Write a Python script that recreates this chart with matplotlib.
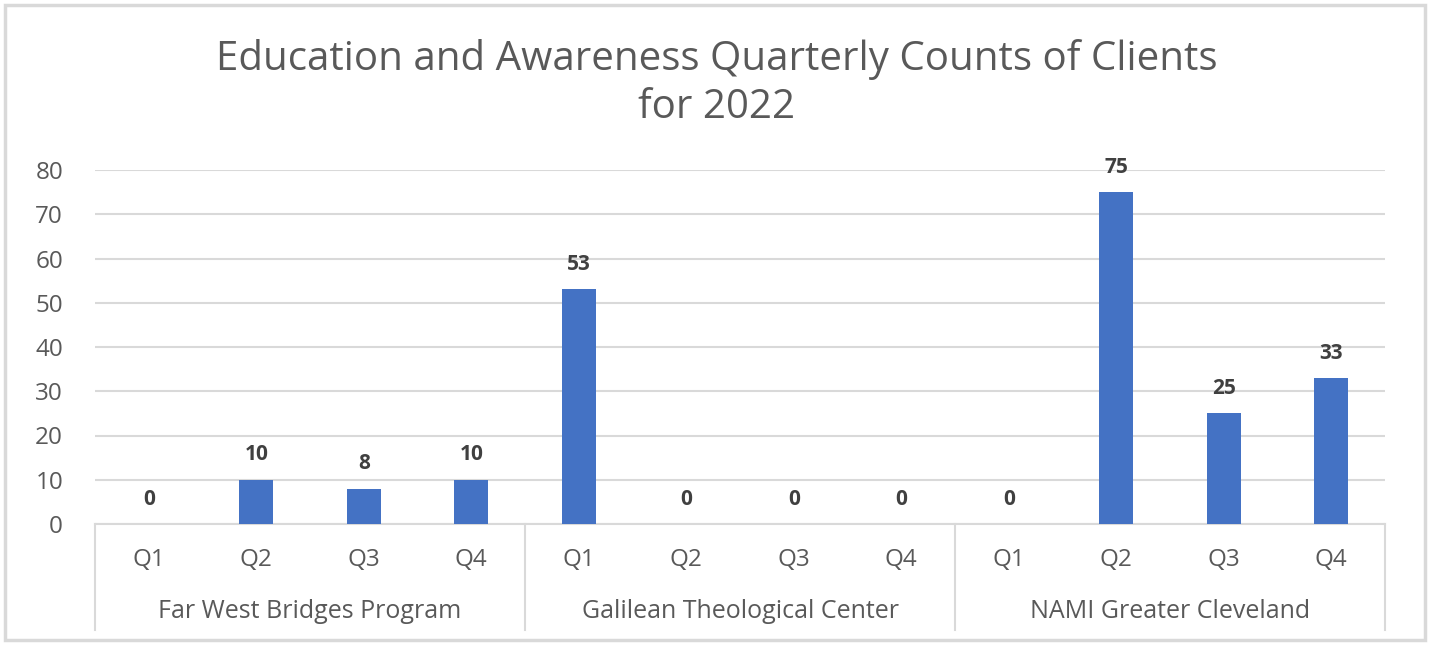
import matplotlib.pyplot as plt
from matplotlib.patches import Rectangle
import numpy as np

plt.rcParams['font.family'] = ['Open Sans', 'DejaVu Sans']

programs = ["Far West Bridges Program", "Galilean Theological Center", "NAMI Greater Cleveland"]
quarters = ["Q1", "Q2", "Q3", "Q4"]
fwb_counts = [0, 10, 8, 10]
gtc_counts = [53, 0, 0, 0]
nami_counts = [0, 75, 25, 33]

counts = fwb_counts + gtc_counts + nami_counts
x = np.arange(len(counts))

fig = plt.figure(figsize=(14.31, 6.45), dpi=100)
ax = fig.add_axes([95 / 1431, 1 - 524 / 645, 1290 / 1431, 354 / 645])

# outer chart border
fig.patches.append(Rectangle((5 / 1431, 5 / 645), 1420 / 1431, 635 / 645,
                             transform=fig.transFigure, fill=False,
                             edgecolor="#d9d9d9", lw=2.5))

bars = ax.bar(x, counts, width=0.32, color="#4472c4", zorder=3)
for xi, v in zip(x, counts):
    ax.annotate(str(v), (xi, v), xytext=(0, 14), textcoords="offset points",
                ha="center", va="baseline", fontsize=15, fontweight="bold",
                color="#404040")

ax.set_xlim(-0.5, len(counts) - 0.5)
ax.set_ylim(0, 80)
ax.set_yticks(range(0, 81, 10))
ax.tick_params(axis="y", length=0, pad=23, labelsize=17.5, labelcolor="#595959")
ax.set_xticks([])
ax.grid(axis="y", color="#d9d9d9", lw=1.5, zorder=0)
for s in ["top", "right", "left"]:
    ax.spines[s].set_visible(False)
ax.spines["bottom"].set_color("#d9d9d9")
ax.spines["bottom"].set_linewidth(1.5)

trans = ax.get_xaxis_transform()
for xi in x:
    ax.text(xi, -36 / 354, quarters[xi % 4], transform=trans, ha="center",
            va="center", fontsize=17.5, color="#595959")
for gi, name in enumerate(programs):
    ax.text(gi * 4 + 1.5, -88 / 354, name, transform=trans, ha="center",
            va="center", fontsize=18, color="#595959")
for b in [-0.5, 3.5, 7.5, 11.5]:
    ax.plot([b, b], [0, -106 / 354], transform=trans, color="#d9d9d9",
            lw=1.5, clip_on=False)

fig.text(0.501, 1 - 59 / 645, "Education and Awareness Quarterly Counts of Clients",
         ha="center", va="center", fontsize=29, color="#595959")
fig.text(0.501, 1 - 108 / 645, "for 2022",
         ha="center", va="center", fontsize=29, color="#595959")

fig.savefig("out.png", dpi=100)
